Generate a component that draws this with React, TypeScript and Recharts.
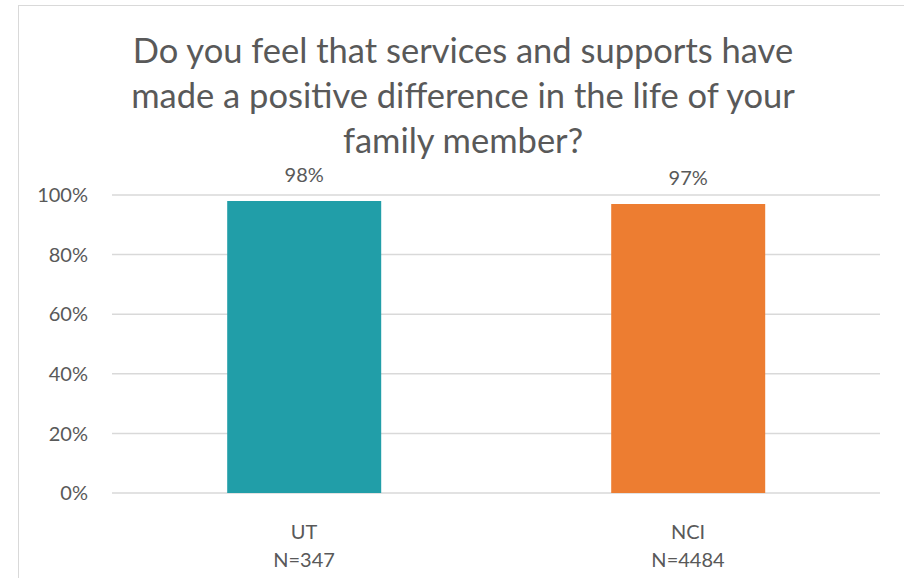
import { BarChart, Bar, XAxis, YAxis, CartesianGrid, Cell, LabelList } from "recharts";

const groups = ["UT", "NCI"];
const sampleSizes = ["N=347", "N=4484"];
const positive = [98, 97];
const barColors = ["#219EA8", "#ED7D31"];
const yTicks = [0, 20, 40, 60, 80, 100];

const data = groups.map((g, i) => ({ name: g, n: sampleSizes[i], value: positive[i] }));

const FONT = "Lato, 'Open Sans', sans-serif";
const GREY = "#595959";

// two-line category label: group name, then sample size
function GroupTick(props: any) {
  const { x, y, payload, index } = props;
  return (
    <g transform={`translate(${x},${y})`}>
      <text textAnchor="middle" fill={GREY} fontSize={20} fontFamily={FONT}>
        <tspan x={0} dy={38}>{payload.value}</tspan>
        <tspan x={0} dy={28}>{sampleSizes[index]}</tspan>
      </text>
    </g>
  );
}

// value label with a white box so it cuts through the gridline
function ValueLabel(props: any) {
  const { x, y, width, value } = props;
  const cx = x + width / 2;
  return (
    <g>
      <rect x={cx - 29} y={y - 40} width={58} height={30} fill="#fff" />
      <text x={cx} y={y - 19} textAnchor="middle" fill={GREY} fontSize={20} fontFamily={FONT}>
        {`${value}%`}
      </text>
    </g>
  );
}

export default function App() {
  return (
    <div style={{ position: "absolute", left: 0, top: 0, width: 904, height: 578, overflow: "hidden", background: "#fff" }}>
      <div style={{ position: "absolute", left: 18, top: 5, width: 890, height: 640, border: "1.5px solid #d9d9d9", boxSizing: "border-box" }} />
      <div
        style={{
          position: "absolute",
          left: 18,
          top: 27,
          width: 890,
          textAlign: "center",
          fontFamily: FONT,
          fontSize: 34.5,
          lineHeight: "45px",
          color: GREY,
        }}
      >
        Do you feel that services and supports have
        <br />
        made a positive difference in the life of your
        <br />
        family member?
      </div>
      <div style={{ position: "absolute", left: 0, top: 0 }}>
        <BarChart width={904} height={578} data={data} margin={{ top: 195, right: 24, bottom: 0, left: 0 }} barCategoryGap="30%">
          <CartesianGrid vertical={false} stroke="#d9d9d9" strokeWidth={1.5} />
          <XAxis dataKey="name" axisLine={false} tickLine={false} tick={<GroupTick />} interval={0} height={85} />
          <YAxis
            width={112}
            domain={[0, 100]}
            ticks={yTicks}
            axisLine={false}
            tickLine={false}
            tickSize={0}
            tickMargin={24}
            tickFormatter={(v: number) => `${v}%`}
            tick={{ fill: GREY, fontSize: 20, fontFamily: FONT }}
          />
          <Bar dataKey="value" isAnimationActive={false}>
            {data.map((d, i) => (
              <Cell key={d.name} fill={barColors[i]} />
            ))}
            <LabelList dataKey="value" content={<ValueLabel />} />
          </Bar>
        </BarChart>
      </div>
    </div>
  );
}
